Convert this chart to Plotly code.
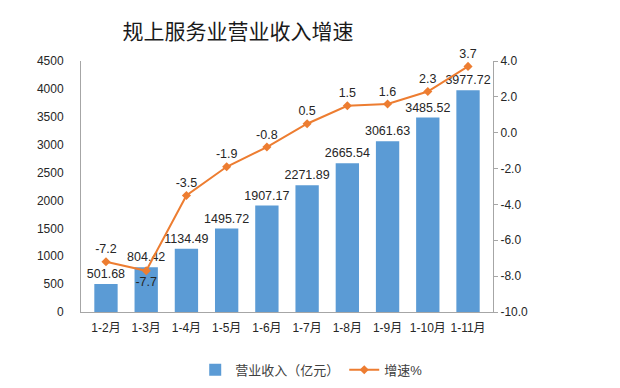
import plotly.graph_objects as go

categories = ["1-2月", "1-3月", "1-4月", "1-5月", "1-6月", "1-7月", "1-8月", "1-9月", "1-10月", "1-11月"]
revenue = [501.68, 804.42, 1134.49, 1495.72, 1907.17, 2271.89, 2665.54, 3061.63, 3485.52, 3977.72]
growth = [-7.2, -7.7, -3.5, -1.9, -0.8, 0.5, 1.5, 1.6, 2.3, 3.7]
growth_text_pos = ["top center", "bottom center"] + ["top center"] * 8
left_ticks = [0, 500, 1000, 1500, 2000, 2500, 3000, 3500, 4000, 4500]
right_ticks = [-10, -8, -6, -4, -2, 0, 2, 4]
right_tick_labels = ["-10.0", "-8.0", "-6.0", "-4.0", "-2.0", "0.0", "2.0", "4.0"]

FONT = "Liberation Sans, Noto Sans CJK SC, sans-serif"
TXT = "#262626"

fig = go.Figure()
fig.add_trace(go.Bar(
    x=categories, y=revenue, name="营业收入（亿元）",
    marker=dict(color="#5B9BD5", line=dict(width=0)),
    text=[f"{v:.2f}" for v in revenue], textposition="outside", constraintext="none",
    textfont=dict(size=12.5, color=TXT, family=FONT), cliponaxis=False,
))
fig.add_trace(go.Scatter(
    x=categories, y=growth, name="增速%", yaxis="y2",
    mode="lines+markers+text",
    line=dict(color="#ED7D31", width=2),
    marker=dict(symbol="diamond", size=7, color="#ED7D31"),
    text=[f"{v:.1f}" for v in growth], textposition=growth_text_pos,
    textfont=dict(size=12.5, color=TXT, family=FONT), cliponaxis=False,
))

fig.update_layout(
    width=620, height=388,
    margin=dict(l=81, r=127, t=61, b=76, autoexpand=False),
    paper_bgcolor="white", plot_bgcolor="white",
    font=dict(family=FONT, size=12, color=TXT),
    title=dict(text="规上服务业营业收入增速", x=0.384, xanchor="center", y=0.918, yanchor="middle",
               font=dict(size=21, color="#1a1a1a", family="Noto Sans CJK SC, sans-serif")),
    bargap=0.42,
    showlegend=True,
    legend=dict(orientation="h", x=0.56, xanchor="center", y=-0.23, yanchor="middle",
                font=dict(size=13, color="#404040", family=FONT)),
    xaxis=dict(showline=True, linecolor="#A6A6A6", linewidth=1, ticks="", tickangle=0,
               automargin=False, ticklabelstandoff=5,
               tickfont=dict(size=12, color=TXT, family=FONT)),
    yaxis=dict(range=[0, 4500], tickvals=left_ticks, showgrid=False, zeroline=False,
               showline=True, linecolor="#A6A6A6", linewidth=1, ticks="",
               ticklabelstandoff=14, automargin=False,
               tickfont=dict(size=12, color=TXT, family=FONT)),
    yaxis2=dict(range=[-10, 4], tickvals=right_ticks, ticktext=right_tick_labels,
                overlaying="y", side="right", automargin=False,
                showgrid=False, zeroline=False, showline=True, linecolor="#A6A6A6", linewidth=1,
                ticks="outside", ticklen=4, tickcolor="#A6A6A6",
                tickfont=dict(size=12, color=TXT, family=FONT)),
)

fig.write_html("out.html", config={"displayModeBar": False},
               post_script="document.body.style.margin='0';")
